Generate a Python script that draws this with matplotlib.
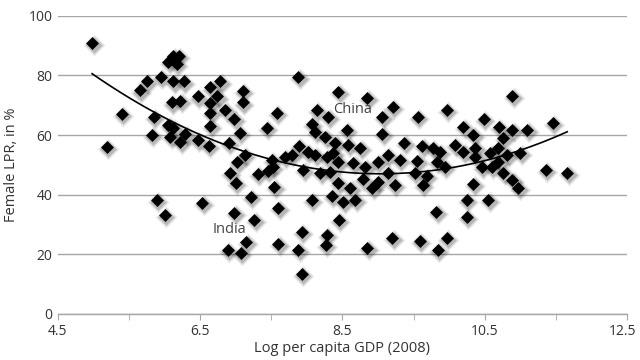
import matplotlib
matplotlib.use('Agg')
import matplotlib.pyplot as plt
import matplotlib.transforms as mtransforms
import numpy as np

# log GDP per capita (2008) and female labour participation rate, by country
log_gdp = np.array([
    4.98, 5.19, 5.40, 5.65, 5.75, 5.95, 5.85, 5.82, 5.89, 6.00,
    6.05, 6.12, 6.20, 6.17, 6.12, 6.27, 6.10, 6.22, 6.05, 6.12,
    6.08, 6.22, 6.29, 6.47, 6.62, 6.47, 6.53,
    6.64, 6.78, 6.64, 6.74, 6.64, 6.64, 6.85, 6.98, 7.06, 6.90,
    7.10, 7.10, 7.13, 7.02, 6.92, 7.00, 6.98, 7.26, 7.15, 6.89,
    7.07, 7.21,
    7.44, 7.31, 7.45, 7.58, 7.51, 7.52, 7.54, 7.60, 7.60, 7.69,
    7.79, 7.89, 7.88, 7.95, 7.93, 7.88, 7.93,
    8.01, 8.12, 8.07, 8.12, 8.14, 8.30, 8.26, 8.40, 8.28, 8.37,
    8.44, 8.19, 8.33, 8.44, 8.35, 8.07, 8.45, 8.28, 8.27, 8.44,
    8.56, 8.58, 8.75, 8.65, 8.82, 8.61, 8.51, 8.68, 8.85, 8.85,
    8.79, 8.92, 9.00, 9.00,
    9.06, 9.21, 9.06, 9.14, 9.31, 9.37, 9.14, 9.24, 9.20, 9.56,
    9.62, 9.55, 9.52, 9.63, 9.69, 9.59, 9.77, 9.87, 9.83, 9.94,
    9.82, 9.97, 9.97, 9.84,
    10.08, 10.20, 10.20, 10.34, 10.37, 10.37, 10.25, 10.25, 10.34, 10.46,
    10.49, 10.55, 10.60, 10.58, 10.68, 10.70, 10.69, 10.76, 10.76, 10.82,
    10.89, 10.89, 10.89, 10.97, 11.00, 11.10, 11.36, 11.46, 11.66,
])
female_lpr = np.array([
    91.0, 56.0, 67.0, 75.0, 78.0, 79.5, 66.0, 60.0, 38.3, 33.3,
    84.5, 86.5, 86.5, 84.0, 78.0, 78.0, 71.0, 71.5, 63.5, 62.5,
    59.4, 57.7, 60.4, 58.4, 56.4, 73.0, 37.2,
    76.0, 78.0, 70.8, 73.0, 67.4, 63.0, 68.5, 65.4, 60.7, 57.5,
    74.8, 71.0, 53.4, 51.0, 47.3, 44.0, 33.9, 31.5, 24.2, 21.4,
    20.5, 39.3,
    62.4, 47.0, 48.0, 67.4, 51.7, 49.3, 42.6, 35.6, 23.5, 52.7,
    53.4, 56.4, 79.5, 48.3, 27.5, 21.5, 13.4,
    54.4, 53.4, 63.7, 61.0, 68.5, 66.0, 59.4, 57.4, 52.7, 54.0,
    51.0, 47.3, 47.7, 44.0, 39.6, 38.3, 31.5, 26.5, 23.2, 74.5,
    61.7, 56.7, 55.7, 50.7, 49.3, 42.3, 37.6, 38.3, 72.5, 22.1,
    45.3, 42.3, 44.3, 51.0,
    66.1, 69.5, 60.4, 53.4, 51.7, 57.4, 47.3, 43.3, 25.5, 66.1,
    56.4, 51.3, 47.3, 43.3, 46.3, 24.5, 55.7, 54.4, 51.0, 49.3,
    34.2, 68.5, 25.5, 21.5,
    56.7, 54.4, 62.7, 60.0, 55.7, 52.7, 38.3, 32.5, 43.6, 49.3,
    65.4, 38.3, 49.3, 54.0, 55.7, 62.7, 51.0, 59.0, 47.3, 53.4,
    61.7, 73.2, 45.0, 42.3, 54.0, 61.7, 48.3, 64.1, 47.3,
])

labels = ['China', 'India']
label_x = [8.37, 6.68]
label_y = [68.5, 28.2]

plt.rcParams['font.family'] = ['Open Sans', 'DejaVu Sans']

fig = plt.figure(figsize=(6.4, 3.6), dpi=100)
ax = fig.add_axes([0.0906, 0.128, 0.889, 0.828])

# soft drop shadow under the markers
ms = 6.6
for scale, alpha in [(1.7, 0.07), (1.45, 0.10), (1.2, 0.14)]:
    shadow = mtransforms.offset_copy(ax.transData, fig=fig, x=1.0, y=-1.6, units='points')
    ax.scatter(log_gdp, female_lpr, s=(ms * scale) ** 2, marker='D', color='black',
               alpha=alpha, linewidths=0, transform=shadow, zorder=2)
ax.scatter(log_gdp, female_lpr, s=ms ** 2, marker='D', color='black',
           linewidths=0, zorder=3)

# second-order polynomial trend
coef = np.polyfit(log_gdp, female_lpr, 2)
xs = np.linspace(log_gdp.min(), log_gdp.max(), 200)
ax.plot(xs, np.polyval(coef, xs), color='black', lw=1.2, zorder=4)

for name, lx, ly in zip(labels, label_x, label_y):
    ax.text(lx, ly, name, fontsize=10.5, color='#444444', va='center', ha='left', zorder=5)

ax.set_xlim(4.5, 12.5)
ax.set_ylim(0, 100)
ax.set_xticks([4.5, 6.5, 8.5, 10.5, 12.5])
ax.set_xticks([5.5, 7.5, 9.5, 11.5], minor=True)
ax.set_yticks([0, 20, 40, 60, 80, 100])
ax.grid(axis='y', color='#a6a6a6', lw=1.0)
ax.set_axisbelow(True)
for side in ['left', 'right', 'top']:
    ax.spines[side].set_visible(False)
ax.spines['bottom'].set_color('#a6a6a6')
ax.spines['bottom'].set_linewidth(1.0)
ax.tick_params(axis='x', which='both', direction='out', length=4, color='#a6a6a6',
               labelsize=10, labelcolor='#333333', pad=3)
ax.tick_params(axis='y', length=0, labelsize=10, labelcolor='#333333', pad=4)

# keep the last x tick label inside the canvas
last = ax.get_xticklabels()[-1]
last.set_transform(last.get_transform() + mtransforms.ScaledTranslation(-3 / 72, 0, fig.dpi_scale_trans))

ax.set_xlabel('Log per capita GDP (2008)', fontsize=10.5, color='#333333', labelpad=2)
ax.set_ylabel('Female LPR, in %', fontsize=10.5, color='#333333', labelpad=7)

fig.savefig('out.png', dpi=100)
